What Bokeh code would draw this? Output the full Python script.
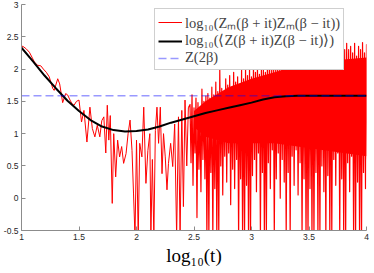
import numpy as np
from bokeh.plotting import figure
from bokeh.models import Legend, LegendItem, FixedTicker, Range1d
from bokeh.embed import file_html
from bokeh.resources import INLINE

# ---- data (x = log10(t)) ----
avg_x = [1.0, 1.1, 1.2, 1.3, 1.4, 1.5, 1.6, 1.7, 1.8, 1.9, 2.0, 2.1, 2.2, 2.3, 2.4, 2.5,
         2.6, 2.7, 2.8, 2.9, 3.0, 3.1, 3.2, 3.3, 3.4, 3.5, 3.6, 3.7, 3.8, 3.9, 4.0]
avg_y = [2.33, 2.12, 1.90, 1.70, 1.51, 1.35, 1.21, 1.11, 1.055, 1.035, 1.04, 1.065, 1.11, 1.17,
         1.22, 1.27, 1.32, 1.36, 1.40, 1.44, 1.48, 1.53, 1.565, 1.58, 1.585, 1.585, 1.585,
         1.585, 1.585, 1.585, 1.585]
z2beta = 1.585

red_x = [1.000, 1.022, 1.043, 1.069, 1.095, 1.112, 1.138, 1.168, 1.190, 1.216, 1.241, 1.272,
         1.284, 1.315, 1.332, 1.358, 1.384, 1.401, 1.422, 1.440, 1.457, 1.478, 1.500, 1.522,
         1.543, 1.569, 1.595, 1.616, 1.638, 1.659, 1.681, 1.698, 1.716, 1.733, 1.746, 1.759,
         1.772, 1.789, 1.802, 1.819, 1.836, 1.853, 1.871, 1.888, 1.909, 1.927, 1.944, 1.961,
         1.974, 1.987, 2.000, 2.015, 2.028, 2.047, 2.063, 2.082, 2.099, 2.116, 2.125, 2.138,
         2.151, 2.164, 2.178, 2.192, 2.207, 2.222, 2.235, 2.250, 2.265, 2.278, 2.297, 2.315,
         2.332, 2.349, 2.365, 2.379, 2.394, 2.408, 2.422, 2.437, 2.451]
red_y = [2.36, 2.34, 2.31, 2.26, 2.17, 2.11, 2.06, 2.05, 2.00, 1.95, 1.88, 1.70,
         1.67, 1.85, 1.77, 1.48, 1.62, 1.60, 1.52, 1.46, 1.44, 1.50, 1.52, 1.18,
         1.36, 0.87, 1.41, 1.08, 0.95, 1.13, 0.95, 1.20, 1.26, 0.70, 1.44, 0.90,
         1.28, -0.08, 1.00, 0.33, 0.90, 0.64, 0.80, 0.54, 0.69, 1.00, 1.21, 0.74,
         0.08, -0.6, 0.90, -0.6, 0.85, 0.64, 1.41, 0.23, 0.74, 1.00, -0.6, 0.60,
         -0.6, 1.05, 1.41, 0.85, 1.41, 0.38, 1.00, 0.64, 0.13, 0.54, 0.85, 0.49,
         1.15, -0.6, 1.26, -0.6, 1.36, -0.13, 1.52, 0.50, 1.40]

# dense part: per-column maxima / minima of the oscillation (x from 2.4655 to 4)
dense_hi = [1.45, 1.60, 1.40, 1.55, 1.48, 1.35, 1.69, 1.50, 1.58, 1.62,
            1.55, 1.72, 1.60, 1.80, 1.65, 2.03, 1.70, 1.62, 1.85, 1.75,
            1.90, 1.72, 1.95, 1.80, 1.88, 1.75, 2.00, 1.85, 2.03, 1.90,
            2.05, 1.88, 2.05, 1.95, 2.05, 1.92, 2.05, 2.00, 1.95, 2.05,
            2.05, 1.98, 2.10, 2.00, 2.10, 2.05, 2.15, 2.05, 2.15, 2.10,
            2.20, 2.10, 2.15, 2.20, 2.10, 2.25, 2.15, 2.20, 2.25, 2.15,
            2.25, 2.20, 2.30, 2.15, 2.25, 2.30, 2.20, 2.30, 2.25, 2.35,
            2.25, 2.30, 2.35, 2.25, 2.30, 2.40, 2.25, 2.35, 2.30, 2.40,
            2.30, 2.35, 2.25, 2.40, 2.20, 2.35, 2.30, 2.41, 2.25, 2.38]
dense_lo = [0.55, 0.20, 0.70, -0.30, 0.45, 0.10, 0.60, 0.30, -0.6, -0.6,
            0.40, -0.6, 0.15, -0.6, -0.6, 0.50, 0.05, 0.65, 0.25, 0.70,
            -0.10, 0.45, 0.15, 0.60, -0.6, 0.30, -0.6, -0.6, 0.20, -0.6,
            -0.6, 0.35, 0.60, 0.10, 0.70, -0.6, 0.40, -0.6, -0.6, 0.55,
            0.15, 0.75, -0.6, 0.30, 0.70, 0.00, 0.60, 0.25, -0.6, 0.40,
            -0.6, 0.65, 0.20, 0.75, 0.05, 0.55, -0.6, 0.30, -0.6, -0.6,
            0.15, -0.6, -0.6, 0.40, -0.6, -0.6, 0.50, 0.10, -0.6, 0.35,
            -0.6, -0.6, 0.60, 0.20, 0.70, -0.6, 0.30, -0.6, -0.6, 0.55,
            0.10, 0.65, -0.6, -0.6, 0.25, -0.6, -0.6, 0.40, 0.15, 0.60]

# band where the oscillation is so dense that it appears solid
core_x = [2.5, 2.6, 2.8, 3.0, 3.2, 3.4, 3.6, 3.8, 4.0]
core_lo = [1.10, 0.95, 0.85, 0.85, 0.85, 0.80, 0.75, 0.70, 0.65]
core_hi = [1.35, 1.50, 1.72, 1.85, 1.95, 2.05, 2.10, 2.15, 2.18]

x_ticks = [1, 1.5, 2, 2.5, 3, 3.5, 4]
x_tick_labels = ["1", "1.5", "2", "2.5", "3", "3.5", "4"]
y_ticks = [-0.5, 0, 0.5, 1, 1.5, 2, 2.5, 3]
y_tick_labels = ["-0.5", "0", "0.5", "1", "1.5", "2", "2.5", "3"]

label_red = "log\u2081\u2080(Z\u2098(\u03b2 + it)Z\u2098(\u03b2 \u2212 it))"
label_black = "log\u2081\u2080(\u27e8Z(\u03b2 + it)Z(\u03b2 \u2212 it)\u27e9)"
label_blue = "Z(2\u03b2)"

# ---- build zig-zag for the dense part ----
dx = np.linspace(2.4655, 4.0, len(dense_hi))
half = (dx[1] - dx[0]) / 2.0
zx, zy = [red_x[-1]], [red_y[-1]]
for xi, h, l in zip(dx, dense_hi, dense_lo):
    zx += [xi, xi + half]
    zy += [h, l]

p = figure(width=370, height=268, output_backend="svg", toolbar_location=None,
           x_range=Range1d(1, 4), y_range=Range1d(-0.5, 3),
           min_border_left=18, min_border_right=4, min_border_top=4, min_border_bottom=0)
p.outline_line_color = None
p.grid.visible = False
p.background_fill_color = "white"

p.varea(x=core_x, y1=core_lo, y2=core_hi, fill_color="#ff0000")
r_red = p.line(red_x, red_y, line_color="#ff0000", line_width=1, line_join="round")
p.line(zx, zy, line_color="#ff0000", line_width=1.2, line_join="round")
r_black = p.line(avg_x, avg_y, line_color="black", line_width=2)
r_blue = p.line([1, 4], [z2beta, z2beta], line_color="blue", line_alpha=0.4,
                line_width=1.5, line_dash="8 4")

for ax, ticks, labels in ((p.xaxis, x_ticks, x_tick_labels), (p.yaxis, y_ticks, y_tick_labels)):
    ax.ticker = FixedTicker(ticks=ticks)
    ax.major_label_overrides = {t: s for t, s in zip(ticks, labels)}
    ax.minor_tick_line_color = None
    ax.major_tick_in = 4
    ax.major_tick_out = 0
    ax.axis_line_color = "#8c8c8c"
    ax.major_tick_line_color = "#8c8c8c"
    ax.major_label_text_font = "Liberation Sans"
    ax.major_label_text_font_size = "8.5px"
    ax.major_label_text_color = "#262626"
    ax.major_label_standoff = 3

p.xaxis.major_label_standoff = 3
p.xaxis.axis_label = "log\u2081\u2080(t)"
p.xaxis.axis_label_text_font = "Liberation Serif"
p.xaxis.axis_label_text_font_style = "normal"
p.xaxis.axis_label_text_font_size = "19px"
p.xaxis.axis_label_text_color = "black"
p.xaxis.axis_label_standoff = 2

legend = Legend(items=[LegendItem(label=label_red, renderers=[r_red]),
                       LegendItem(label=label_black, renderers=[r_black]),
                       LegendItem(label=label_blue, renderers=[r_blue])],
                location=(133, 160), label_text_font="Liberation Serif",
                label_text_font_size="14.5px", glyph_width=24, glyph_height=16,
                label_height=16, spacing=0, padding=3, margin=0, label_standoff=3,
                border_line_color="#a0a0a0", border_line_width=1,
                background_fill_color="white", background_fill_alpha=1)
p.add_layout(legend)

open("out.html", "w").write(file_html(p, INLINE))
